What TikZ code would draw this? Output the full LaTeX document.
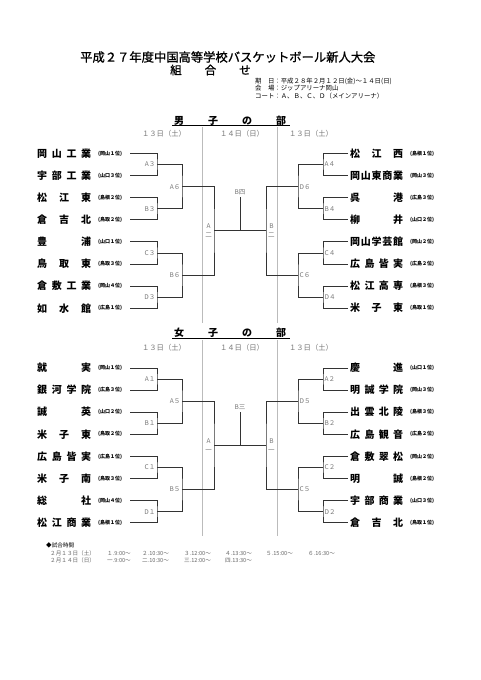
\documentclass[tikz,border=0pt]{standalone}
\usepackage{fontspec}
\setmainfont{Noto Sans CJK JP}
\newfontfamily\titlefont[FakeBold=1]{Noto Sans CJK JP}
\usepackage{tikz}
\usetikzlibrary{positioning, calc}
\definecolor{linegray}{HTML}{333333}
\definecolor{divgray}{HTML}{BBBBBB}
\definecolor{labelgray}{HTML}{777777}
\definecolor{footgray}{HTML}{666666}

\begin{document}
\begin{tikzpicture}[x=1pt, y=-1pt,
  teamname/.style={inner sep=0pt, anchor=west, font=\fontsize{10}{12}\selectfont\bfseries},
  rank/.style={inner sep=0pt, anchor=west, font=\fontsize{5}{6}\selectfont\bfseries},
  lbl/.style={inner sep=0pt, text=labelgray, font=\fontsize{6.5}{9}\selectfont},
  datehead/.style={inner sep=0pt, text=labelgray, font=\fontsize{7.3}{8}\selectfont},
  sechead/.style={inner sep=0pt, anchor=west, font=\fontsize{10}{12}\selectfont\bfseries},
  bracket/.style={draw=linegray, line width=0.9pt},
  divider/.style={draw=divgray, line width=0.6pt},
  info/.style={inner sep=0pt, anchor=west, font=\fontsize{6.4}{7}\selectfont},
  foot/.style={inner sep=0pt, anchor=west, text=footgray, font=\fontsize{5.6}{6}\selectfont}]

  \fill[white] (0,0) rectangle (481,680);
  \useasboundingbox (0,0) rectangle (481,680);

  % Titel
  \node[inner sep=0pt, anchor=west, font=\fontsize{12.3}{14}\titlefont] (title) at (80,57)
    {平成２７年度中国高等学校バスケットボール新人大会};
  \node[inner sep=0pt, anchor=west, font=\fontsize{11.5}{14}\titlefont] (subtitle) at (170,70)
    {組　　合　　せ};
  \node[info] (info1) at (255,81) {期　日：平成２８年２月１２日(金)～１４日(日)};
  \node[info] (info2) at (255,88.3) {会　場：ジップアリーナ岡山};
  \node[info] (info3) at (255,95.6) {コート：Ａ、Ｂ、Ｃ、Ｄ（メインアリーナ）};

  % ---------------- 男子の部 ----------------
  \node[sechead] (bhead) at (174,120.5) {男\hspace{24pt}子\hspace{24pt}の\hspace{24pt}部};
  \draw[line width=0.6pt] ([xshift=-2pt]bhead.south west) -- ([xshift=4pt]bhead.south east);
  \node[datehead] (bdl) at (164,133.5) {１３日（土）};
  \node[datehead] (bdc) at (242,133.5) {１４日（日）};
  \node[datehead] (bdr) at (311,133.5) {１３日（土）};
  \draw[divider] (202,127) -- (202,323);
  \draw[divider] (277,127) -- (277,323);

  % Mannschaften links
  \foreach \i/\nm/\rk [evaluate=\i as \y using 153.5+22.1*(\i-1)] in {
      1/{岡\hfill 山\hfill 工\hfill 業}/岡山１位,
      2/{宇\hfill 部\hfill 工\hfill 業}/山口３位,
      3/{松\hfill 江\hfill 東}/島根２位,
      4/{倉\hfill 吉\hfill 北}/鳥取２位,
      5/{豊\hfill 浦}/山口１位,
      6/{鳥\hfill 取\hfill 東}/鳥取３位,
      7/{倉\hfill 敷\hfill 工\hfill 業}/岡山４位,
      8/{如\hfill 水\hfill 館}/広島１位}{
    \node[teamname] (bln\i) at (37,\y) {\makebox[54pt][s]{\nm}};
    \node[rank] (blr\i) at (98,\y) {(\rk)};
    \coordinate (bl\i) at (130,\y);
  }
  % Mannschaften rechts
  \foreach \i/\nm/\rk [evaluate=\i as \y using 153.5+22.1*(\i-1)] in {
      1/{松\hfill 江\hfill 西}/島根１位,
      2/{岡\hfill 山\hfill 東\hfill 商\hfill 業}/岡山３位,
      3/{呉\hfill 港}/広島３位,
      4/{柳\hfill 井}/山口２位,
      5/{岡\hfill 山\hfill 学\hfill 芸\hfill 館}/岡山２位,
      6/{広\hfill 島\hfill 皆\hfill 実}/広島２位,
      7/{松\hfill 江\hfill 高\hfill 専}/島根３位,
      8/{米\hfill 子\hfill 東}/鳥取１位}{
    \node[teamname] (brn\i) at (350,\y) {\makebox[53pt][s]{\nm}};
    \node[rank] (brr\i) at (410,\y) {(\rk)};
    \coordinate (br\i) at (348,\y);
  }

  % Turnierbaum links
  \coordinate (ba3) at ($(bl1)!.5!(bl2)+(27,0)$);
  \coordinate (bb3) at ($(bl3)!.5!(bl4)+(27,0)$);
  \coordinate (bc3) at ($(bl5)!.5!(bl6)+(27,0)$);
  \coordinate (bd3) at ($(bl7)!.5!(bl8)+(27,0)$);
  \coordinate (ba6) at ($(ba3)!.5!(bb3)+(25,0)$);
  \coordinate (bb6) at ($(bc3)!.5!(bd3)+(25,0)$);
  \coordinate (bfl) at ($(ba6)!.5!(bb6)+(32,0)$);
  \draw[bracket] (bl1) -| (ba3) |- (bl2);
  \draw[bracket] (bl3) -| (bb3) |- (bl4);
  \draw[bracket] (bl5) -| (bc3) |- (bl6);
  \draw[bracket] (bl7) -| (bd3) |- (bl8);
  \draw[bracket] (ba3) -| (ba6) |- (bb3);
  \draw[bracket] (bc3) -| (bb6) |- (bd3);
  \draw[bracket] (ba6) -| (bfl) |- (bb6);
  \node[lbl, left=1.5pt of ba3] {A３};
  \node[lbl, left=1.5pt of bb3] {B３};
  \node[lbl, left=1.5pt of bc3] {C３};
  \node[lbl, left=1.5pt of bd3] {D３};
  \node[lbl, left=1.5pt of ba6] {A６};
  \node[lbl, left=1.5pt of bb6] {B６};

  % Turnierbaum rechts
  \coordinate (ba4) at ($(br1)!.5!(br2)+(-25,0)$);
  \coordinate (bb4) at ($(br3)!.5!(br4)+(-25,0)$);
  \coordinate (bc4) at ($(br5)!.5!(br6)+(-25,0)$);
  \coordinate (bd4) at ($(br7)!.5!(br8)+(-25,0)$);
  \coordinate (bd6) at ($(ba4)!.5!(bb4)+(-25,0)$);
  \coordinate (bc6) at ($(bc4)!.5!(bd4)+(-25,0)$);
  \coordinate (bfr) at ($(bd6)!.5!(bc6)+(-32,0)$);
  \draw[bracket] (br1) -| (ba4) |- (br2);
  \draw[bracket] (br3) -| (bb4) |- (br4);
  \draw[bracket] (br5) -| (bc4) |- (br6);
  \draw[bracket] (br7) -| (bd4) |- (br8);
  \draw[bracket] (ba4) -| (bd6) |- (bb4);
  \draw[bracket] (bc4) -| (bc6) |- (bd4);
  \draw[bracket] (bd6) -| (bfr) |- (bc6);
  \node[lbl, right=1.5pt of ba4] {A４};
  \node[lbl, right=1.5pt of bb4] {B４};
  \node[lbl, right=1.5pt of bc4] {C４};
  \node[lbl, right=1.5pt of bd4] {D４};
  \node[lbl, right=1.5pt of bd6] {D６};
  \node[lbl, right=1.5pt of bc6] {C６};

  % Finale
  \coordinate (bfc) at ($(bfl)!.5!(bfr)$);
  \coordinate (bft) at ($(bfc)+(0,-33.5)$);
  \draw[bracket] (bfl) -- (bfr);
  \draw[bracket] (bfc) -- (bft);
  \node[lbl, above=2pt of bft] {B四};
  \node[lbl, align=center, left=2pt of bfl] {A\\二};
  \node[lbl, align=center, right=2pt of bfr] {B\\二};

  % ---------------- 女子の部 ----------------
  \node[sechead] (ghead) at (174,333) {女\hspace{24pt}子\hspace{24pt}の\hspace{24pt}部};
  \draw[line width=0.6pt] ([xshift=-2pt]ghead.south west) -- ([xshift=4pt]ghead.south east);
  \node[datehead] (gdl) at (164,347.5) {１３日（土）};
  \node[datehead] (gdc) at (242,347.5) {１４日（日）};
  \node[datehead] (gdr) at (311,347.5) {１３日（土）};
  \draw[divider] (202,340) -- (202,536);
  \draw[divider] (277,340) -- (277,536);

  % Mannschaften links
  \foreach \i/\nm/\rk [evaluate=\i as \y using 368+22.1*(\i-1)] in {
      1/{就\hfill 実}/岡山１位,
      2/{銀\hfill 河\hfill 学\hfill 院}/広島３位,
      3/{誠\hfill 英}/山口２位,
      4/{米\hfill 子\hfill 東}/鳥取２位,
      5/{広\hfill 島\hfill 皆\hfill 実}/広島１位,
      6/{米\hfill 子\hfill 南}/鳥取３位,
      7/{総\hfill 社}/岡山４位,
      8/{松\hfill 江\hfill 商\hfill 業}/島根１位}{
    \node[teamname] (gln\i) at (37,\y) {\makebox[54pt][s]{\nm}};
    \node[rank] (glr\i) at (98,\y) {(\rk)};
    \coordinate (gl\i) at (130,\y);
  }
  % Mannschaften rechts
  \foreach \i/\nm/\rk [evaluate=\i as \y using 368+22.1*(\i-1)] in {
      1/{慶\hfill 進}/山口１位,
      2/{明\hfill 誠\hfill 学\hfill 院}/岡山３位,
      3/{出\hfill 雲\hfill 北\hfill 陵}/島根３位,
      4/{広\hfill 島\hfill 観\hfill 音}/広島２位,
      5/{倉\hfill 敷\hfill 翠\hfill 松}/岡山２位,
      6/{明\hfill 誠}/島根２位,
      7/{宇\hfill 部\hfill 商\hfill 業}/山口３位,
      8/{倉\hfill 吉\hfill 北}/鳥取１位}{
    \node[teamname] (grn\i) at (350,\y) {\makebox[53pt][s]{\nm}};
    \node[rank] (grr\i) at (410,\y) {(\rk)};
    \coordinate (gr\i) at (348,\y);
  }

  % Turnierbaum links
  \coordinate (ga1) at ($(gl1)!.5!(gl2)+(27,0)$);
  \coordinate (gb1) at ($(gl3)!.5!(gl4)+(27,0)$);
  \coordinate (gc1) at ($(gl5)!.5!(gl6)+(27,0)$);
  \coordinate (gd1) at ($(gl7)!.5!(gl8)+(27,0)$);
  \coordinate (ga5) at ($(ga1)!.5!(gb1)+(25,0)$);
  \coordinate (gb5) at ($(gc1)!.5!(gd1)+(25,0)$);
  \coordinate (gfl) at ($(ga5)!.5!(gb5)+(32,0)$);
  \draw[bracket] (gl1) -| (ga1) |- (gl2);
  \draw[bracket] (gl3) -| (gb1) |- (gl4);
  \draw[bracket] (gl5) -| (gc1) |- (gl6);
  \draw[bracket] (gl7) -| (gd1) |- (gl8);
  \draw[bracket] (ga1) -| (ga5) |- (gb1);
  \draw[bracket] (gc1) -| (gb5) |- (gd1);
  \draw[bracket] (ga5) -| (gfl) |- (gb5);
  \node[lbl, left=1.5pt of ga1] {A１};
  \node[lbl, left=1.5pt of gb1] {B１};
  \node[lbl, left=1.5pt of gc1] {C１};
  \node[lbl, left=1.5pt of gd1] {D１};
  \node[lbl, left=1.5pt of ga5] {A５};
  \node[lbl, left=1.5pt of gb5] {B５};

  % Turnierbaum rechts
  \coordinate (ga2) at ($(gr1)!.5!(gr2)+(-25,0)$);
  \coordinate (gb2) at ($(gr3)!.5!(gr4)+(-25,0)$);
  \coordinate (gc2) at ($(gr5)!.5!(gr6)+(-25,0)$);
  \coordinate (gd2) at ($(gr7)!.5!(gr8)+(-25,0)$);
  \coordinate (gd5) at ($(ga2)!.5!(gb2)+(-25,0)$);
  \coordinate (gc5) at ($(gc2)!.5!(gd2)+(-25,0)$);
  \coordinate (gfr) at ($(gd5)!.5!(gc5)+(-32,0)$);
  \draw[bracket] (gr1) -| (ga2) |- (gr2);
  \draw[bracket] (gr3) -| (gb2) |- (gr4);
  \draw[bracket] (gr5) -| (gc2) |- (gr6);
  \draw[bracket] (gr7) -| (gd2) |- (gr8);
  \draw[bracket] (ga2) -| (gd5) |- (gb2);
  \draw[bracket] (gc2) -| (gc5) |- (gd2);
  \draw[bracket] (gd5) -| (gfr) |- (gc5);
  \node[lbl, right=1.5pt of ga2] {A２};
  \node[lbl, right=1.5pt of gb2] {B２};
  \node[lbl, right=1.5pt of gc2] {C２};
  \node[lbl, right=1.5pt of gd2] {D２};
  \node[lbl, right=1.5pt of gd5] {D５};
  \node[lbl, right=1.5pt of gc5] {C５};

  % Finale
  \coordinate (gfc) at ($(gfl)!.5!(gfr)$);
  \coordinate (gft) at ($(gfc)+(0,-33.5)$);
  \draw[bracket] (gfl) -- (gfr);
  \draw[bracket] (gfc) -- (gft);
  \node[lbl, above=2pt of gft] {B三};
  \node[lbl, align=center, left=2pt of gfl] {A\\一};
  \node[lbl, align=center, right=2pt of gfr] {B\\一};

  % Spielzeiten
  \node[foot, text=black] (times) at (46,545.5) {◆試合時間};
  \node[foot] (day1) at (50,553) {２月１３日（土）};
  \node[foot] (day2) at (50,560.5) {２月１４日（日）};
  \foreach \x/\t [count=\k] in {107/１.9:00～, 142/２.10:30～, 184/３.12:00～,
      225/４.13:30～, 266/５.15:00～, 308/６.16:30～}
    \node[foot] (ta\k) at (\x,553) {\t};
  \foreach \x/\t [count=\k] in {107/一.9:00～, 142/二.10:30～, 184/三.12:00～,
      225/四.13:30～}
    \node[foot] (tb\k) at (\x,560.5) {\t};
\end{tikzpicture}
\end{document}
